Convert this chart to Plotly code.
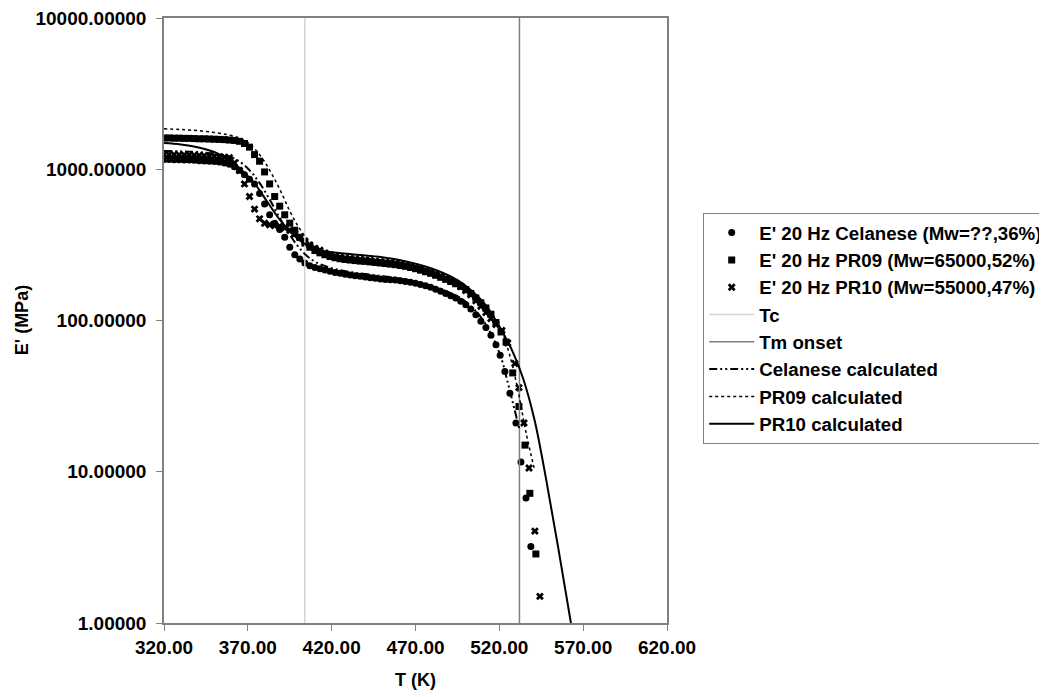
import plotly.graph_objects as go

# measured points, E' at 20 Hz (MPa) vs T (K)
cel_T = [320, 323, 326, 329, 332, 335, 338, 341, 344, 347, 350, 353, 356, 359, 362, 365, 368, 371, 374,
         377, 380, 383, 386, 389, 392, 395, 398, 401, 404, 407, 410, 413, 416, 419, 422, 425, 428, 431,
         434, 437, 440, 443, 446, 449, 452, 455, 458, 461, 464, 467, 470, 473, 476, 479, 482, 485, 488,
         491, 494, 497, 500, 503, 506, 509, 512, 515, 518, 520.5, 523.3, 526.3, 529.9, 532.9, 535.9, 538.8]
cel_E = [1160, 1160, 1155, 1155, 1150, 1150, 1145, 1140, 1135, 1130, 1125, 1115, 1100, 1080, 1040, 985,
         920, 860, 800, 690, 590, 500, 440, 400, 355, 305, 272, 255, 240, 230, 224, 220, 216, 212, 208,
         205, 202, 200, 198, 196, 194, 192, 190, 188, 187, 186, 185, 183, 181, 179, 176, 173, 170, 166,
         161, 156, 151, 146, 141, 134, 127, 119, 109, 99, 90, 80, 69, 59, 46, 33, 21, 11.6, 6.7, 3.2]

pr09_T = [320, 323, 326, 329, 332, 335, 338, 341, 344, 347, 350, 353, 356, 359, 362, 365, 368, 371, 374,
          377, 380, 383, 386, 389, 392, 395, 398, 401, 404, 407, 410, 413, 416, 419, 422, 425, 428, 431,
          434, 437, 440, 443, 446, 449, 452, 455, 458, 461, 464, 467, 470, 473, 476, 479, 482, 485, 488,
          491, 494, 497, 500, 503, 506, 509, 512, 515, 518, 521, 524, 528, 531.7, 535.3, 538.2, 541.8]
pr09_E = [1610, 1610, 1605, 1605, 1600, 1600, 1595, 1590, 1590, 1585, 1580, 1575, 1570, 1560, 1550, 1530,
          1480, 1400, 1250, 1130, 960, 800, 660, 570, 500, 440, 395, 355, 325, 305, 290, 280, 272, 265,
          260, 256, 253, 251, 249, 247, 246, 244, 242, 240, 238, 236, 234, 231, 228, 224, 220, 215, 210,
          205, 199, 193, 187, 181, 175, 168, 160, 151, 141, 131, 121, 110, 97, 84, 72, 45, 27, 15, 7.2, 2.86]

pr10_T = [320, 323, 326, 329, 332, 335, 338, 341, 344, 347, 350, 353, 356, 359, 362, 365, 368, 371, 374,
          377, 380, 383, 386, 389, 392, 395, 398, 401, 404, 407, 410, 413, 416, 419, 422, 425, 428, 431,
          434, 437, 440, 443, 446, 449, 452, 455, 458, 461, 464, 467, 470, 473, 476, 479, 482, 485, 488,
          491, 494, 497, 500, 503, 506, 509, 512, 515, 518, 521.5, 525, 529.3, 531.7, 534.7, 537.7, 541.2, 544.2]
pr10_E = [1250, 1250, 1248, 1245, 1245, 1240, 1240, 1235, 1230, 1225, 1220, 1210, 1200, 1190, 1100, 980,
          800, 660, 545, 470, 440, 430, 425, 420, 410, 395, 375, 355, 335, 316, 300, 292, 280, 272, 266,
          262, 259, 257, 255, 253, 251, 249, 247, 245, 243, 241, 239, 236, 233, 229, 225, 220, 215, 210,
          204, 197, 190, 183, 176, 168, 158, 148, 135, 124, 113, 103, 94, 86, 71, 52, 36, 21, 10.6, 4.05, 1.5]

# model curves
cel_calc_T = [320, 330, 340, 350, 357, 363, 368, 373, 378, 383, 388, 393, 398, 404, 410, 418, 430, 445,
              460, 475, 488, 498, 507, 514, 521, 525, 529, 532]
cel_calc_E = [1320, 1315, 1300, 1270, 1230, 1160, 1060, 930, 780, 630, 500, 400, 330, 275, 245, 225, 210,
              200, 190, 175, 157, 138, 112, 86, 57, 39, 26, 19]

pr09_calc_T = [320, 330, 340, 350, 358, 365, 370, 375, 380, 385, 390, 395, 400, 406, 413, 420, 435, 450,
               465, 480, 493, 503, 512, 520, 526, 531, 536, 541]
pr09_calc_E = [1850, 1830, 1800, 1750, 1690, 1610, 1500, 1330, 1120, 900, 700, 530, 420, 340, 295, 272,
               258, 250, 238, 215, 185, 155, 125, 92, 60, 35, 18, 10.3]

pr10_calc_T = [320, 330, 340, 350, 360, 368, 375, 382, 390, 398, 405, 412, 420, 435, 450, 465, 480, 495,
               505, 512, 517, 523, 528, 534, 541, 548, 555, 562.7]
pr10_calc_E = [1490, 1460, 1400, 1300, 1130, 950, 780, 600, 450, 360, 315, 292, 283, 272, 262, 245, 220,
               185, 152, 126, 104, 80, 62, 42, 22, 8.8, 3.2, 1.0]

Tc = 404
Tm_onset = 532
E_span = [1, 10000]

x_ticks = [320, 370, 420, 470, 520, 570, 620]
y_ticks = [1, 10, 100, 1000, 10000]

font = "Liberation Sans, Arial, sans-serif"

fig = go.Figure()

fig.add_trace(go.Scatter(x=cel_T, y=cel_E, mode="markers", name="E' 20 Hz Celanese (Mw=??,36%)",
                         legendgroup="a", marker=dict(symbol="circle", size=7, color="black")))
fig.add_trace(go.Scatter(x=pr09_T, y=pr09_E, mode="markers", name="E' 20 Hz PR09 (Mw=65000,52%)",
                         legendgroup="b", marker=dict(symbol="square", size=7, color="black")))
fig.add_trace(go.Scatter(x=pr10_T, y=pr10_E, mode="markers", name="E' 20 Hz PR10 (Mw=55000,47%)",
                         legendgroup="c", marker=dict(symbol="x", size=7, color="black")))
fig.add_trace(go.Scatter(x=[Tc, Tc], y=E_span, mode="lines", name="Tc", legendgroup="d",
                         line=dict(color="#d4d4d4", width=1.5)))
fig.add_trace(go.Scatter(x=[Tm_onset, Tm_onset], y=E_span, mode="lines", name="Tm onset", legendgroup="e",
                         line=dict(color="#808080", width=1.5)))
fig.add_trace(go.Scatter(x=cel_calc_T, y=cel_calc_E, mode="lines", name="Celanese calculated", legendgroup="f",
                         line=dict(color="black", width=2, dash="8px,3px,2px,3px,2px,3px", shape="spline")))
fig.add_trace(go.Scatter(x=pr09_calc_T, y=pr09_calc_E, mode="lines", name="PR09 calculated", legendgroup="g",
                         line=dict(color="black", width=1.5, dash="3px,3px", shape="spline")))
fig.add_trace(go.Scatter(x=pr10_calc_T, y=pr10_calc_E, mode="lines", name="PR10 calculated", legendgroup="h",
                         line=dict(color="black", width=2, shape="spline")))

fig.update_layout(
    width=1047, height=697,
    margin=dict(l=156, r=388, t=10, b=82),
    paper_bgcolor="white", plot_bgcolor="white",
    font=dict(family=font, size=18, color="black"),
    showlegend=True,
    legend=dict(xref="container", yref="container", x=0.664, y=0.706, xanchor="left", yanchor="top",
                bordercolor="#808080", borderwidth=1, bgcolor="white",
                font=dict(family=font, size=18.7, color="black", weight="bold"),
                itemwidth=45, tracegroupgap=0),
    xaxis=dict(range=[320, 620], tickvals=x_ticks, tickformat=".2f", automargin=False,
               showgrid=False, zeroline=False, showline=True, linecolor="#808080", linewidth=1.5,
               mirror=True, ticks="outside", ticklen=6, tickcolor="#808080",
               ticklabeloverflow="allow",
               tickfont=dict(family=font, size=19, weight="bold")),
    yaxis=dict(type="log", range=[0, 4], tickvals=y_ticks, tickformat=".5f", automargin=False,
               showgrid=False, zeroline=False, showline=True, linecolor="#808080", linewidth=1.5,
               mirror=True, ticks="outside", ticklen=6, tickcolor="#808080", ticklabelstandoff=6,
               ticklabeloverflow="allow",
               tickfont=dict(family=font, size=19, weight="bold")),
    annotations=[
        dict(text="T (K)", x=0.5, y=-0.094, xref="paper", yref="paper", showarrow=False,
             xanchor="center", yanchor="middle", font=dict(family=font, size=18, weight="bold")),
        dict(text="E' (MPa)", x=-0.283, y=0.5, xref="paper", yref="paper", showarrow=False,
             textangle=-90, xanchor="center", yanchor="middle",
             font=dict(family=font, size=18, weight="bold")),
    ],
)

fig.write_html("out.html")
